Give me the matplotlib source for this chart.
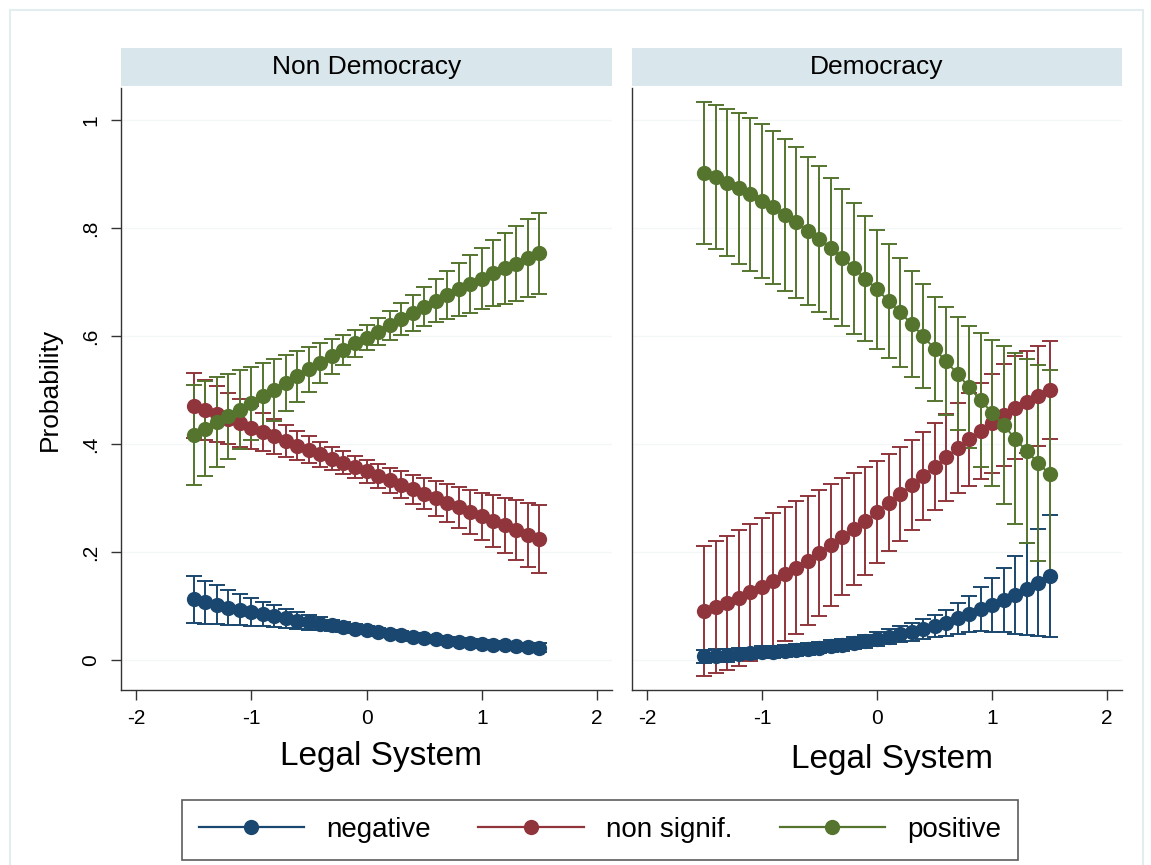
import numpy as np
import matplotlib
matplotlib.use("Agg")
import matplotlib.pyplot as plt
from matplotlib.patches import Rectangle
from matplotlib.lines import Line2D

plt.rcParams['font.family'] = ['Liberation Sans', 'DejaVu Sans']
plt.rcParams['axes.unicode_minus'] = False

# ---------------- data ----------------
legal_system = [-1.5, -1.4, -1.3, -1.2, -1.1, -1.0, -0.9, -0.8, -0.7, -0.6, -0.5,
                -0.4, -0.3, -0.2, -0.1, 0.0, 0.1, 0.2, 0.3, 0.4, 0.5, 0.6, 0.7,
                0.8, 0.9, 1.0, 1.1, 1.2, 1.3, 1.4, 1.5]

panels = ["Non Democracy", "Democracy"]
outcomes = ["negative", "non signif.", "positive"]

# Non Democracy
nondem_negative = [.112, .107, .102, .097, .093, .089, .085, .081, .077, .073, .070,
                   .067, .064, .061, .058, .055, .052, .049, .046, .043, .040, .038,
                   .036, .034, .032, .030, .028, .027, .025, .024, .023]
nondem_negative_ci = [.044, .040, .036, .032, .029, .026, .023, .020, .018, .016, .014,
                      .012, .010, .009, .008, .007, .007, .007, .007, .007, .007, .007,
                      .007, .007, .007, .007, .007, .007, .007, .008, .008]
nondem_nonsig = [.471, .463, .455, .447, .439, .430, .422, .414, .405, .397, .389,
                 .381, .373, .365, .357, .349, .341, .333, .324, .316, .308, .299,
                 .291, .283, .274, .266, .258, .249, .241, .232, .224]
nondem_nonsig_ci = [.060, .056, .052, .048, .044, .040, .036, .033, .030, .027, .025,
                    .023, .022, .021, .021, .021, .022, .023, .025, .027, .029, .032,
                    .035, .038, .041, .044, .048, .051, .055, .059, .063]
nondem_positive = [.417, .428, .440, .451, .463, .475, .488, .500, .513, .525, .538,
                   .550, .562, .574, .586, .597, .608, .620, .631, .642, .654, .665,
                   .676, .686, .696, .706, .716, .725, .734, .744, .753]
nondem_positive_ci = [.093, .088, .083, .078, .073, .068, .062, .057, .052, .047, .042,
                      .037, .032, .028, .025, .024, .025, .027, .030, .033, .036, .040,
                      .044, .049, .053, .057, .061, .065, .069, .072, .075]

# Democracy
dem_negative = [.007, .008, .009, .011, .012, .014, .015, .017, .019, .021, .023,
                .026, .028, .031, .035, .039, .043, .048, .052, .057, .063, .069,
                .077, .085, .094, .102, .111, .120, .131, .143, .156]
dem_negative_ci = [.012, .012, .012, .011, .011, .011, .011, .011, .011, .011, .011,
                   .011, .011, .011, .012, .013, .014, .015, .016, .018, .020, .024,
                   .028, .034, .041, .050, .060, .072, .085, .099, .113]
dem_nonsig = [.091, .098, .106, .115, .125, .136, .146, .159, .171, .184, .198,
              .212, .228, .243, .258, .274, .291, .307, .324, .341, .358, .375,
              .392, .409, .424, .438, .454, .467, .478, .489, .500]
dem_nonsig_ci = [.120, .122, .124, .126, .126, .126, .126, .124, .123, .120, .117,
                 .113, .108, .104, .100, .095, .090, .087, .084, .082, .080, .081,
                 .083, .086, .089, .092, .094, .095, .094, .092, .090]
dem_positive = [.902, .894, .884, .873, .862, .850, .838, .824, .810, .795, .779,
                .762, .745, .725, .706, .686, .665, .644, .622, .600, .576, .553,
                .530, .505, .481, .458, .435, .410, .387, .365, .344]
dem_positive_ci = [.132, .134, .136, .139, .141, .142, .142, .141, .139, .137, .135,
                   .131, .127, .122, .116, .110, .105, .101, .098, .096, .096, .100,
                   .105, .113, .124, .135, .147, .159, .171, .182, .192]

series_by_panel = {
    "Non Democracy": [(nondem_negative, nondem_negative_ci),
                      (nondem_nonsig, nondem_nonsig_ci),
                      (nondem_positive, nondem_positive_ci)],
    "Democracy": [(dem_negative, dem_negative_ci),
                  (dem_nonsig, dem_nonsig_ci),
                  (dem_positive, dem_positive_ci)],
}

colors = ['#1a476f', '#90353b', '#55752f']

x_ticks = [-2, -1, 0, 1, 2]
y_ticks = [0, 0.2, 0.4, 0.6, 0.8, 1.0]
y_ticklabels = ["0", ".2", ".4", ".6", ".8", "1"]

# ---------------- figure ----------------
W, H = 1151, 865
fig = plt.figure(figsize=(W / 100, H / 100), dpi=100)
fig.patch.set_facecolor('white')

# faint outer frame (graph region)
fig.patches.append(Rectangle((10 / W, -0.01), 1133 / W, 1 - 10 / H + 0.01,
                             transform=fig.transFigure, fill=False,
                             edgecolor='#e3ecef', linewidth=1.5))

ax_boxes = [(121, 612), (632, 1122)]
ax_top, ax_bot = 88, 690
strip_top, strip_bot = 48, 86

x = np.array(legal_system)

for i, (pname, (xl, xr)) in enumerate(zip(panels, ax_boxes)):
    ax = fig.add_axes([xl / W, (H - ax_bot) / H, (xr - xl) / W, (ax_bot - ax_top) / H])
    ax.set_xlim(-2.13, 2.13)
    ax.set_ylim(-0.0556, 1.059)
    for y in y_ticks:
        ax.axhline(y, color='#f3f7f8', lw=0.9, zorder=0)
    for k, (est, ci) in enumerate(series_by_panel[pname]):
        est = np.array(est)
        ci = np.array(ci)
        ax.errorbar(x, est, yerr=ci, fmt='none', ecolor=colors[k], elinewidth=1.4,
                    capsize=5.5, capthick=1.4, zorder=2 + k)
        ax.plot(x, est, '-', color=colors[k], lw=1.4, marker='o', markersize=11,
                markeredgewidth=0, zorder=5 + k)
    for s in ['top', 'right']:
        ax.spines[s].set_visible(False)
    for s in ['left', 'bottom']:
        ax.spines[s].set_color('#333333')
        ax.spines[s].set_linewidth(1.0)
    ax.set_xticks(x_ticks)
    ax.set_xticklabels([str(t) for t in x_ticks], fontsize=15)
    ax.tick_params(axis='x', length=7, width=1, color='#333333', pad=7)
    ax.set_xlabel("Legal System", fontsize=24)
    ax.xaxis.set_label_coords(0.5 + 15 / (xr - xl), -0.085 - 0.004 * i)
    if i == 0:
        ax.set_yticks(y_ticks)
        ax.set_yticklabels(y_ticklabels, fontsize=15, rotation=90, va='center')
        ax.tick_params(axis='y', length=7, width=1, color='#333333', pad=8)
        ax.set_ylabel("Probability", fontsize=19, labelpad=14)
    else:
        ax.set_yticks([])
    # strip
    sax = fig.add_axes([xl / W, (H - strip_bot) / H, (xr - xl) / W, (strip_bot - strip_top) / H])
    sax.set_facecolor('#d9e6eb')
    sax.set_xticks([])
    sax.set_yticks([])
    for s in sax.spines.values():
        s.set_visible(False)
    sax.text(0.5, 0.5, pname, ha='center', va='center', fontsize=19, transform=sax.transAxes)

handles = [Line2D([0], [0], color=c, lw=1.6, marker='o', markersize=11, markeredgewidth=0)
           for c in colors]
leg = fig.legend(handles, outcomes, loc='center', ncol=3,
                 bbox_to_anchor=((182 + 1018) / 2 / W, 1 - 830 / H),
                 fontsize=20, frameon=True, fancybox=False, handlelength=3.8,
                 columnspacing=1.7, handletextpad=0.8, borderpad=0.6)
leg.get_frame().set_edgecolor('#333333')
leg.get_frame().set_linewidth(1.2)

fig.savefig("out.png", dpi=100, facecolor='white')
